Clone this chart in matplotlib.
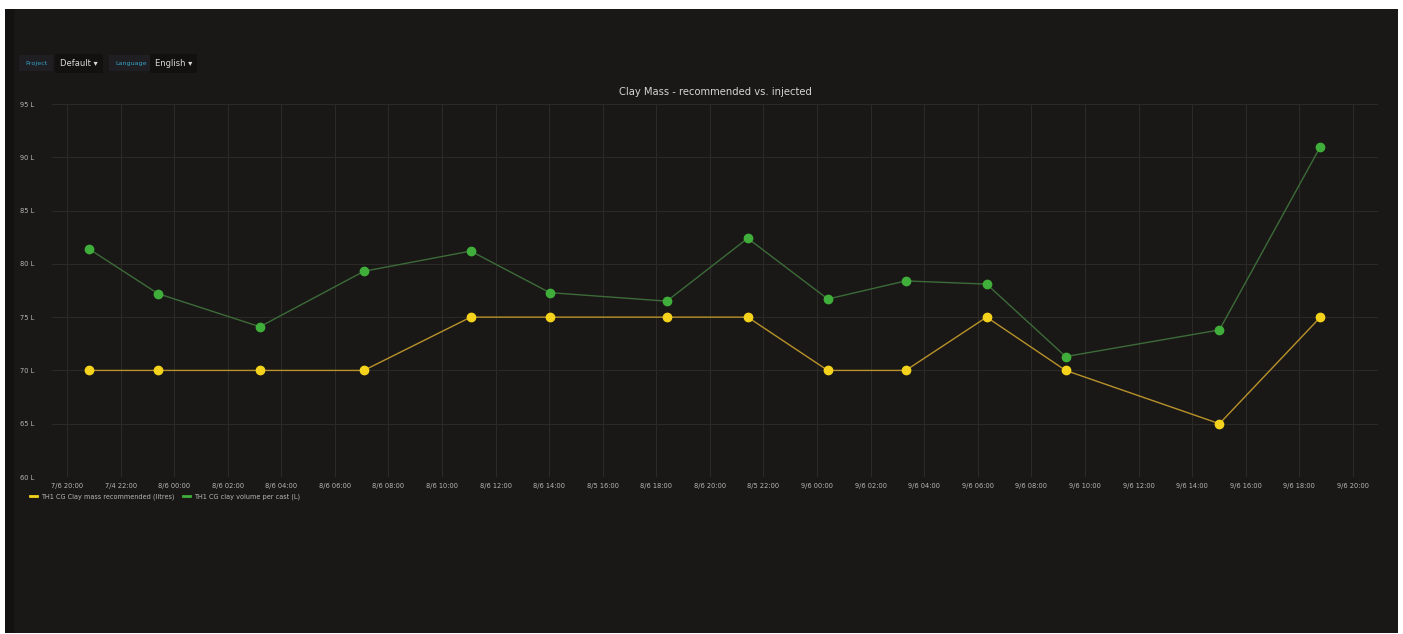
import matplotlib.pyplot as plt
from matplotlib import lines

# hours after 7/6 20:00
hours = [0.82, 3.40, 7.20, 11.08, 15.07, 18.02, 22.39, 25.41, 28.40, 31.31, 34.33, 37.28, 43.02, 46.79]
recommended = [70, 70, 70, 70, 75, 75, 75, 75, 70, 70, 75, 70, 65, 75]
injected = [81.4, 77.2, 74.1, 79.3, 81.2, 77.3, 76.5, 82.4, 76.7, 78.4, 78.1, 71.3, 73.8, 91.0]

tick_hours = list(range(0, 49, 2))
tick_labels = ['7/6 20:00', '7/4 22:00', '8/6 00:00', '8/6 02:00', '8/6 04:00', '8/6 06:00',
               '8/6 08:00', '8/6 10:00', '8/6 12:00', '8/6 14:00', '8/5 16:00', '8/6 18:00',
               '8/6 20:00', '8/5 22:00', '9/6 00:00', '9/6 02:00', '9/6 04:00', '9/6 06:00',
               '9/6 08:00', '9/6 10:00', '9/6 12:00', '9/6 14:00', '9/6 16:00', '9/6 18:00',
               '9/6 20:00']
y_ticks = [60, 65, 70, 75, 80, 85, 90, 95]

W, H = 1403, 634
bg = '#1a1816'
grid_c = '#2b2a27'
txt_c = '#b9b7b2'

fig = plt.figure(figsize=(W / 100, H / 100), dpi=100, facecolor='white')

# dark dashboard area
back = fig.add_axes([5 / W, 1 - 633 / H, (1398 - 5) / W, (633 - 9) / H])
back.set_facecolor(bg)
back.set_xticks([])
back.set_yticks([])
for s in back.spines.values():
    s.set_visible(False)
back.set_xlim(0, 1)
back.set_ylim(0, 1)
back.axvspan(0, 0.006, color='#131211')

# template variable boxes
def var_box(x_label, x_value, label, value):
    fig.text(x_label / W, 1 - 63 / H, label, color='#33a2c4', fontsize=4.6, va='center',
             bbox=dict(boxstyle='square,pad=0.9', fc='#1f1e22', ec='none'))
    fig.text(x_value / W, 1 - 63 / H, value + ' \u25be', color='#dcdad5',
             fontsize=6, va='center', bbox=dict(boxstyle='square,pad=0.6', fc='#121110', ec='none'))

var_box(25, 60, 'Project', 'Default')
var_box(115, 155, 'Language', 'English')

ax = fig.add_axes([52 / W, 1 - 477 / H, (1378 - 52) / W, (477 - 104) / H])
ax.set_facecolor(bg)
ax.plot(hours, recommended, color='#b8922a', lw=1.0, marker='o', ms=6,
        mfc='#f5d31c', mec='#f5d31c', zorder=3)
ax.plot(hours, injected, color='#3c6b39', lw=1.0, marker='o', ms=6,
        mfc='#3fae3a', mec='#3fae3a', zorder=3)

ax.set_xlim(-0.56, 48.94)
ax.set_ylim(60, 95)
ax.set_xticks(tick_hours)
ax.set_xticklabels(tick_labels)
ax.set_yticks(y_ticks)
ax.set_yticklabels(['%d L' % v for v in y_ticks])
ax.tick_params(axis='both', colors=txt_c, labelsize=4.8, length=0)
ax.tick_params(axis='x', pad=4)
ax.tick_params(axis='y', pad=10)
for lab in ax.get_yticklabels():
    lab.set_horizontalalignment('left')
    lab.set_x(-0.014)
ax.grid(True, color=grid_c, lw=0.8)
for s in ax.spines.values():
    s.set_visible(False)

fig.text(715 / W, 1 - 92 / H, 'Clay Mass - recommended vs. injected', color='#d6d4cf',
         fontsize=7.2, ha='center', va='center')

# legend
handles = [lines.Line2D([0], [0], color='#f5d31c', lw=2, label='TH1 CG Clay mass recommended (litres)'),
           lines.Line2D([0], [0], color='#3fae3a', lw=2, label='TH1 CG clay volume per cast (L)')]
leg = fig.legend(handles=handles, loc='center left', bbox_to_anchor=(27 / W, 1 - 497 / H),
                 ncol=2, frameon=False, fontsize=4.7, handlelength=1.0, handletextpad=0.6,
                 columnspacing=1.4, borderpad=0)
for t in leg.get_texts():
    t.set_color(txt_c)

fig.savefig('out.png', dpi=100, facecolor='white')
